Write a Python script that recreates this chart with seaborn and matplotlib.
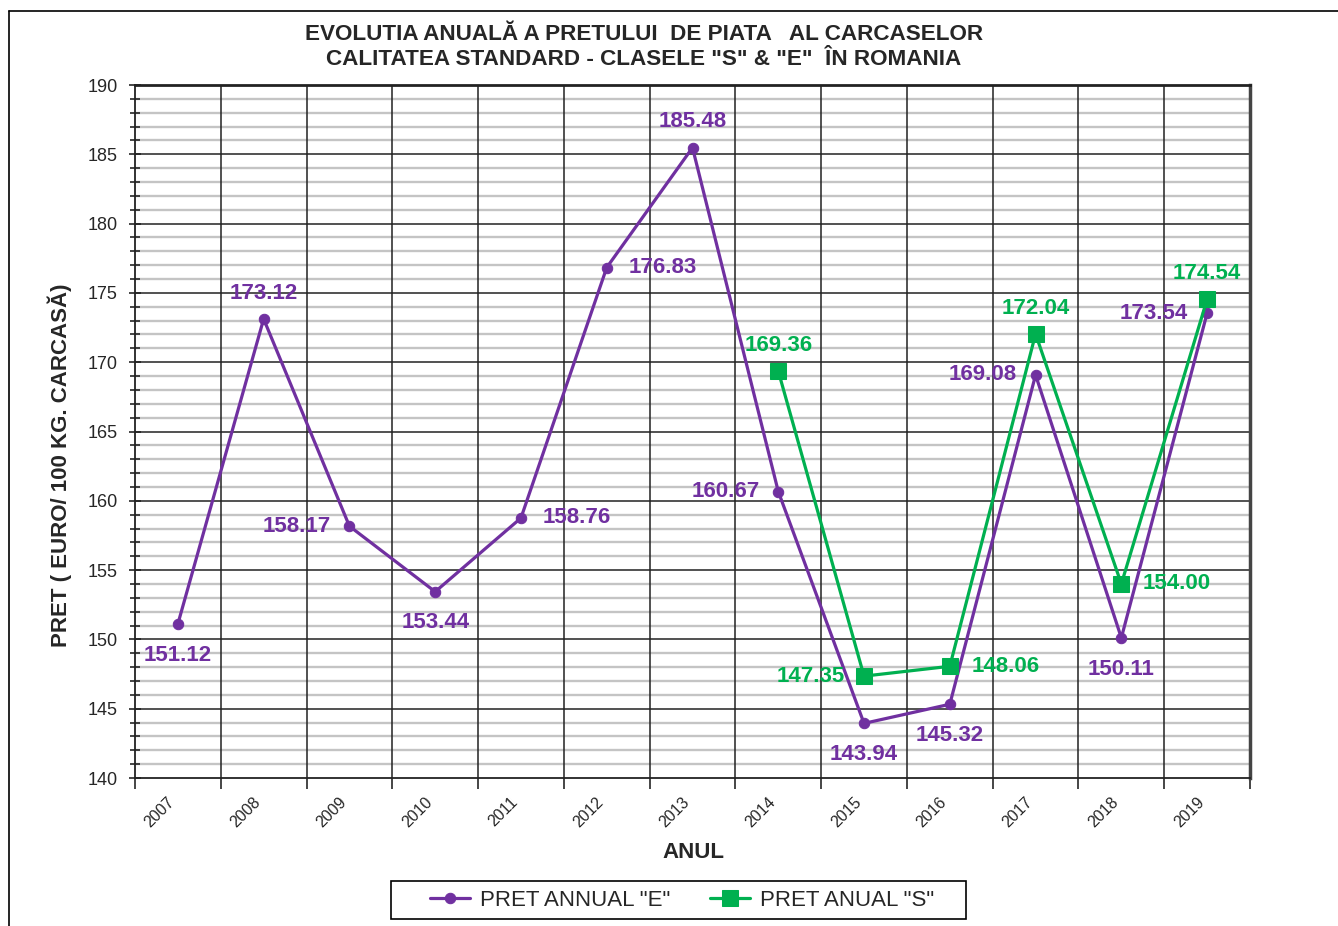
import matplotlib
matplotlib.use("Agg")
import matplotlib.pyplot as plt
import matplotlib.transforms as mtransforms
import seaborn as sns
import pandas as pd
import numpy as np
from matplotlib.lines import Line2D
from matplotlib.patches import Rectangle
from matplotlib.ticker import MultipleLocator

years = [2007, 2008, 2009, 2010, 2011, 2012, 2013, 2014, 2015, 2016, 2017, 2018, 2019]
pret_e = [151.12, 173.12, 158.17, 153.44, 158.76, 176.83, 185.48, 160.67, 143.94, 145.32, 169.08, 150.11, 173.54]
years_s = [2014, 2015, 2016, 2017, 2018, 2019]
pret_s = [169.36, 147.35, 148.06, 172.04, 154.00, 174.54]

# where Excel put each data label relative to its point
pos_e = ['below', 'above', 'left', 'below', 'right', 'right', 'above',
         'left', 'below', 'below', 'left', 'below', 'left']
pos_s = ['above', 'left', 'right', 'above', 'right', 'above']

PURPLE = '#7030A0'
GREEN = '#00B050'

sns.set_style('white')
plt.rcParams['font.family'] = ['Liberation Sans', 'DejaVu Sans']

fig = plt.figure(figsize=(13.38, 9.26), dpi=100)
ax = fig.add_axes([135 / 1338, 1 - 778 / 926, (1250 - 135) / 1338, (778 - 85) / 926])

df_e = pd.DataFrame({'year': years, 'pret': pret_e})
df_s = pd.DataFrame({'year': years_s, 'pret': pret_s})

sns.lineplot(data=df_e, x='year', y='pret', ax=ax, color=PURPLE, lw=2.3,
             marker='o', markersize=7.5, markeredgecolor=PURPLE, zorder=4,
             label='PRET ANNUAL "E"')
sns.lineplot(data=df_s, x='year', y='pret', ax=ax, color=GREEN, lw=2.3,
             marker='s', markersize=11, markeredgecolor=GREEN, zorder=5,
             label='PRET ANUAL "S"')

# (dx, dy) in points, text centred
offsets = {'above': (0, 18.5, 'center'),
           'below': (0, -22.5, 'center'),
           'left': (-13.5, 0, 'right'),
           'right': (15.5, 0, 'left')}


def put_labels(xs, ys, where, color):
    for x, y, w in zip(xs, ys, where):
        dx, dy, ha = offsets[w]
        ax.annotate(f'{y:.2f}', (x, y), xytext=(dx, dy), textcoords='offset points',
                    ha=ha, va='center', color=color, fontsize=16, fontweight='bold', zorder=6)


put_labels(years, pret_e, pos_e, PURPLE)
put_labels(years_s, pret_s, pos_s, GREEN)

ax.set_xlim(2006.5, 2019.5)
ax.set_ylim(140, 190)
ax.set_xticks(years)
ax.set_xticklabels([str(y) for y in years], rotation=45, fontsize=11.5, ha='right')
# nudge the rotated year labels a few pixels right, like Excel
shift = mtransforms.ScaledTranslation(4 / 100, 0, fig.dpi_scale_trans)
for lab in ax.get_xticklabels():
    lab.set_transform(lab.get_transform() + shift)
ax.xaxis.set_minor_locator(MultipleLocator(1, offset=0.5))
ax.yaxis.set_major_locator(MultipleLocator(5))
ax.yaxis.set_minor_locator(MultipleLocator(1))
ax.tick_params(axis='y', which='major', direction='inout', length=9, width=1.2,
               labelsize=13, pad=8, left=True)
ax.tick_params(axis='y', which='minor', direction='inout', length=7, width=1.2, left=True)
ax.tick_params(axis='x', which='major', length=0, pad=12)
ax.tick_params(axis='x', which='minor', direction='out', length=8, width=1.2, bottom=True)

# Excel-like gridlines: light minor rows, dark major rows, dark column separators
for v in np.arange(141, 190, 1):
    if v % 5:
        ax.axhline(v, color='#c4c4c4', lw=1.7, zorder=0.5)
for v in np.arange(145, 190, 5):
    ax.axhline(v, color='#222222', lw=1.1, zorder=1)
for b in np.arange(2007.5, 2019, 1):
    ax.axvline(b, color='#222222', lw=1.1, zorder=1.2)

for side in ['left', 'bottom', 'top']:
    ax.spines[side].set_color('#222222')
    ax.spines[side].set_linewidth(1.3)
ax.spines['right'].set_color('#444444')
ax.spines['right'].set_linewidth(2.5)
ax.spines['top'].set_linewidth(2)

ax.set_xlabel('ANUL', fontsize=16, fontweight='bold')
ax.set_ylabel('PRET ( EURO/ 100 KG. CARCASĂ)', fontsize=16, fontweight='bold')
ax.xaxis.set_label_coords((693 - 135) / 1115, (778 - 853) / 693)
ax.yaxis.set_label_coords((60 - 135) / 1115, (778 - 465) / 693)
ax.xaxis.label.set_va('center')
ax.yaxis.label.set_va('center')

fig.text(644 / 1338, 1 - 47 / 926,
         'EVOLUTIA ANUALĂ A PRETULUI  DE PIATA   AL CARCASELOR\n'
         'CALITATEA STANDARD - CLASELE "S" & "E"  ÎN ROMANIA',
         ha='center', va='center', fontsize=16.2, fontweight='bold', linespacing=1.22)

leg = ax.legend(loc='center', bbox_to_anchor=(682 / 1338, 1 - 900 / 926),
                bbox_transform=fig.transFigure, ncol=2, fontsize=16, frameon=False,
                handlelength=1.8, columnspacing=1.8, handletextpad=0.45)
fig.add_artist(Rectangle((391 / 1338, 1 - 919 / 926), 575 / 1338, 38 / 926,
                         transform=fig.transFigure, fill=False, edgecolor='black', lw=1.2))

# outer chart-area border (clipped at right and bottom in the source)
fig.add_artist(Line2D([9 / 1338, 9 / 1338], [0, 1 - 11 / 926], color='black', lw=1.2,
                      transform=fig.transFigure))
fig.add_artist(Line2D([9 / 1338, 1], [1 - 11 / 926, 1 - 11 / 926], color='black', lw=1.2,
                      transform=fig.transFigure))

fig.savefig('out.png', dpi=100)
